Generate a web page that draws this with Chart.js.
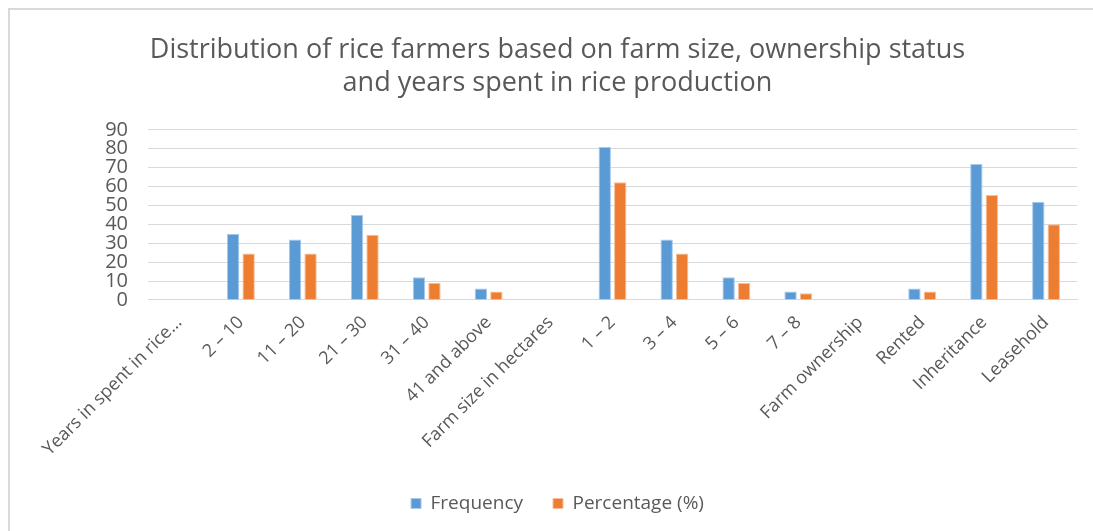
<!DOCTYPE html>
<html>
<head>
<meta charset="utf-8">
<script src="https://cdn.jsdelivr.net/npm/chart.js@4"></script>
<style>
  html, body { margin: 0; padding: 0; background: #fff; }
  #wrap { position: relative; width: 1093px; height: 531px; overflow: hidden; }
  #frame { position: absolute; left: 8px; top: 8px; width: 1200px; height: 600px;
           border-left: 2px solid #d9d9d9; border-top: 2px solid #d9d9d9; }
  #chart { position: absolute; left: 0; top: 0; }
</style>
</head>
<body>
<div id="wrap">
  <div id="frame"></div>
  <canvas id="chart" width="1093" height="531"></canvas>
</div>
<script>
// categories (empty groups act as section headers)
const categories = [
    'Years in spent in rice…', '2 – 10', '11 – 20', '21 – 30', '31 – 40', '41 and above',
    'Farm size in hectares', '1 – 2', '3 – 4', '5 – 6', '7 – 8',
    'Farm ownership', 'Rented', 'Inheritance', 'Leasehold'
];
const frequency = [null, 35, 32, 45, 12, 6, null, 81, 32, 12, 4.5, null, 6, 72, 52];
const percentage = [null, 24.6, 24.6, 34.5, 9, 4.5, null, 62.3, 24.6, 9, 3.5, null, 4.5, 55.6, 40];
const yTicks = [0, 10, 20, 30, 40, 50, 60, 70, 80, 90];

const font = "'Open Sans', 'Noto Sans', sans-serif";
const textColor = '#595959';

const ctx = document.getElementById('chart').getContext('2d');
new Chart(ctx, {
    type: 'bar',
    data: {
        labels: categories,
        datasets: [
            {
                label: 'Frequency',
                data: frequency,
                backgroundColor: '#5b9bd5',
                borderColor: '#a9c9ea',
                borderWidth: 1,
                categoryPercentage: 0.5,
                barPercentage: 0.8
            },
            {
                label: 'Percentage (%)',
                data: percentage,
                backgroundColor: '#ed7d31',
                borderColor: '#f6bf9a',
                borderWidth: 1,
                categoryPercentage: 0.5,
                barPercentage: 0.8
            }
        ]
    },
    options: {
        responsive: false,
        animation: false,
        layout: { padding: { left: 38, right: 16, top: 34, bottom: 8 } },
        plugins: {
            title: {
                display: true,
                text: ['Distribution of rice farmers based on farm size, ownership status',
                       'and years spent in rice production'],
                color: textColor,
                font: { family: font, size: 27, weight: 'normal', lineHeight: 1.22 },
                padding: { top: 0, bottom: 30 }
            },
            legend: {
                position: 'bottom',
                labels: {
                    color: textColor,
                    font: { family: font, size: 19 },
                    boxWidth: 10,
                    boxHeight: 10,
                    padding: 30
                }
            },
            tooltip: { enabled: false }
        },
        scales: {
            x: {
                grid: { display: false },
                border: { color: '#d9d9d9', width: 1 },
                ticks: {
                    color: textColor,
                    font: { family: font, size: 18 },
                    autoSkip: false,
                    minRotation: 45,
                    maxRotation: 45,
                    padding: 4
                }
            },
            y: {
                min: 0,
                max: 90,
                afterBuildTicks: axis => { axis.ticks = yTicks.map(v => ({ value: v })); },
                afterFit: axis => { axis.width = 110; },
                grid: { color: '#d9d9d9', lineWidth: 1, drawTicks: false },
                border: { display: false },
                ticks: {
                    color: textColor,
                    font: { family: font, size: 20, lineHeight: 1 },
                    autoSkip: false,
                    stepSize: 10,
                    padding: 20
                }
            }
        }
    }
});
</script>
</body>
</html>
